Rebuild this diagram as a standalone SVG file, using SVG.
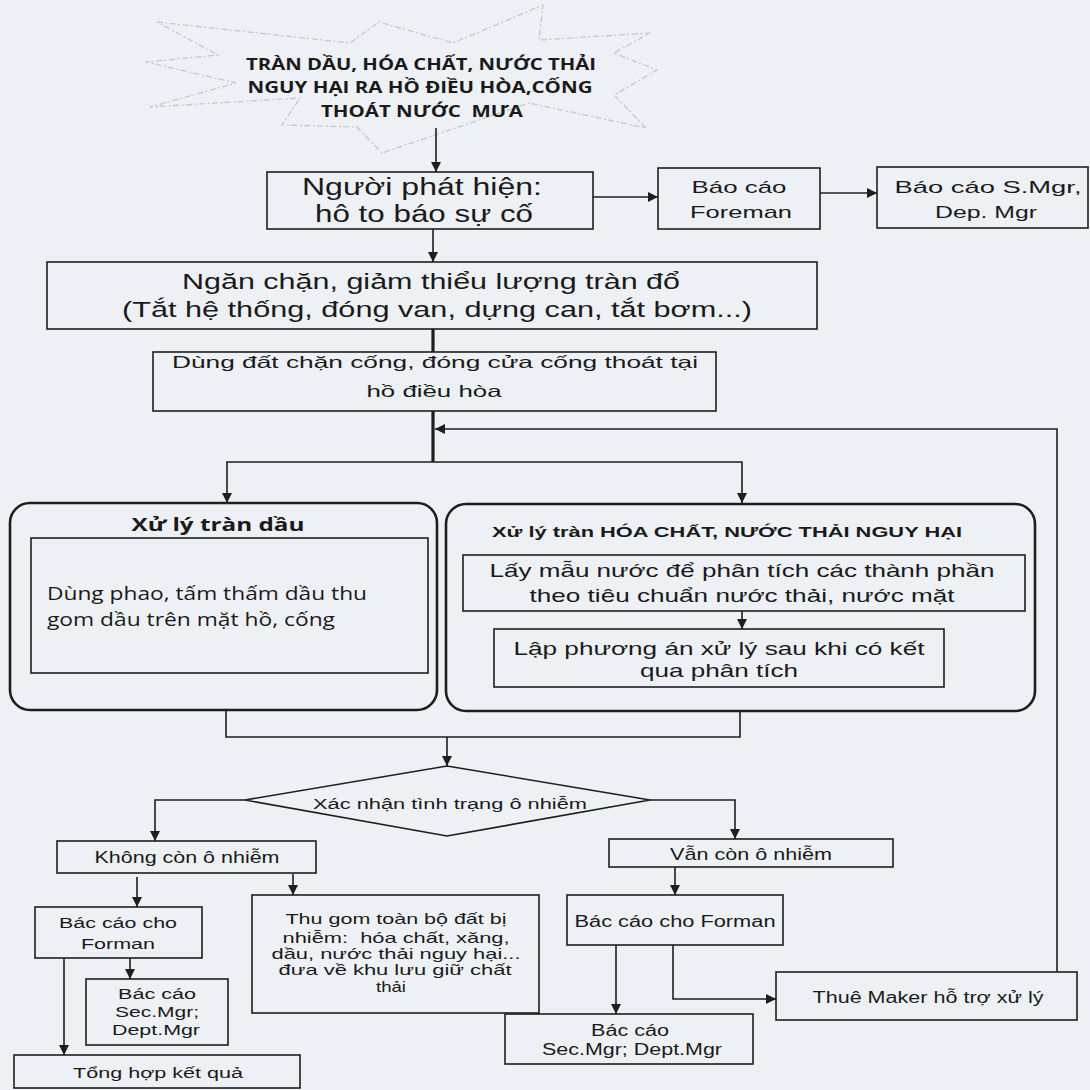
<svg xmlns="http://www.w3.org/2000/svg" width="1090" height="1090" viewBox="0 0 1090 1090">
<defs>
<style>
.box{fill:none;stroke:#1e1e1e;stroke-width:1.6}
.rbox{fill:none;stroke:#1e1e1e;stroke-width:2.6}
.ln{fill:none;stroke:#1e1e1e;stroke-width:1.6}
.thick{stroke-width:3.2}
.t{font-family:"Liberation Sans",Arial,sans-serif;fill:#1a1a1a;text-anchor:middle}
.c{font-family:"Open Sans","Noto Sans",sans-serif;fill:#1a1a1a;text-anchor:middle}
.b{font-weight:700}
.pre{white-space:pre}
.star{fill:none;stroke:#c6c6c6;stroke-width:1.3;stroke-dasharray:6 2 2 3}
</style>
<marker id="ah" viewBox="0 0 10 10" refX="10" refY="5" markerWidth="10" markerHeight="11" markerUnits="userSpaceOnUse" orient="auto">
<path d="M0,0 L10,5 L0,10 z" fill="#1e1e1e"/>
</marker>
</defs>
<rect x="0" y="0" width="1090" height="1090" fill="#edf1f5"/>

<g id="n-start">
<polygon class="star" points="157,22 350,43 379,22 453,43 543,5 539,40 650,33 614,53 657,70 614,95 646,128 529,103 382,153 357,127 282,125 300,98 150,107 236,83 146,62 218,55"/>
<text class="c b" font-size="16.5" x="421" y="70" textLength="350" lengthAdjust="spacingAndGlyphs">TRÀN DẦU, HÓA CHẤT, NƯỚC THẢI</text>
<text class="c b" font-size="16.5" x="420" y="93" textLength="345" lengthAdjust="spacingAndGlyphs">NGUY HẠI RA HỒ ĐIỀU HÒA,CỐNG</text>
<text class="c b pre" font-size="16.5" x="422" y="117" textLength="202" lengthAdjust="spacingAndGlyphs">THOÁT NƯỚC  MƯA</text>
</g>

<g id="n-phathien">
<rect class="box" x="267" y="172" width="326" height="57"/>
<text class="t" font-size="23" x="422" y="195" textLength="240" lengthAdjust="spacingAndGlyphs">Người phát hiện:</text>
<text class="t" font-size="23" x="424" y="222" textLength="218" lengthAdjust="spacingAndGlyphs">hô to báo sự cố</text>
</g>

<g id="n-foreman">
<rect class="box" x="658" y="168" width="162" height="61"/>
<text class="t" font-size="17" x="739" y="193" textLength="95" lengthAdjust="spacingAndGlyphs">Báo cáo</text>
<text class="t" font-size="17" x="741" y="218" textLength="102" lengthAdjust="spacingAndGlyphs">Foreman</text>
</g>

<g id="n-smgr">
<rect class="box" x="877" y="167" width="211" height="61"/>
<text class="t" font-size="17" x="988" y="193" textLength="187" lengthAdjust="spacingAndGlyphs">Báo cáo S.Mgr,</text>
<text class="t" font-size="17" x="986" y="218" textLength="102" lengthAdjust="spacingAndGlyphs">Dep. Mgr</text>
</g>

<g id="n-nganchan">
<rect class="box" x="47" y="262" width="770" height="67"/>
<text class="t" font-size="22.5" x="431" y="289" textLength="498" lengthAdjust="spacingAndGlyphs">Ngăn chặn, giảm thiểu lượng tràn đổ</text>
<text class="t" font-size="22.5" x="437" y="317" textLength="630" lengthAdjust="spacingAndGlyphs">(Tắt hệ thống, đóng van, dựng can, tắt bơm...)</text>
</g>

<g id="n-dungdat">
<rect class="box" x="153" y="352" width="563" height="59"/>
<text class="t" font-size="16.5" x="435" y="368" textLength="526" lengthAdjust="spacingAndGlyphs">Dùng đất chặn cống, đóng cửa cống thoát tại</text>
<text class="t" font-size="16.5" x="434" y="397" textLength="135" lengthAdjust="spacingAndGlyphs">hồ điều hòa</text>
</g>

<g id="n-trandau">
<rect class="rbox" x="10" y="503" width="427" height="207" rx="20" ry="20"/>
<text class="c b" font-size="17" x="218" y="531" textLength="173" lengthAdjust="spacingAndGlyphs">Xử lý tràn dầu</text>
<rect class="box" x="31" y="538" width="397" height="135"/>
<text class="c" font-size="18" x="47" y="600" style="text-anchor:start" textLength="320" lengthAdjust="spacingAndGlyphs">Dùng phao, tấm thấm dầu thu</text>
<text class="c" font-size="18" x="47" y="626" style="text-anchor:start" textLength="288" lengthAdjust="spacingAndGlyphs">gom dầu trên mặt hồ, cống</text>
</g>

<g id="n-hoachat">
<rect class="rbox" x="446" y="504" width="589" height="207" rx="20" ry="20"/>
<text class="t b" font-size="14" x="727" y="537" textLength="470" lengthAdjust="spacingAndGlyphs">Xử lý tràn HÓA CHẤT, NƯỚC THẢI NGUY HẠI</text>
</g>

<g id="n-laymau">
<rect class="box" x="463" y="555" width="562" height="56"/>
<text class="t" font-size="18.5" x="742" y="577" textLength="505" lengthAdjust="spacingAndGlyphs">Lấy mẫu nước để phân tích các thành phần</text>
<text class="t" font-size="18.5" x="742" y="602" textLength="425" lengthAdjust="spacingAndGlyphs">theo tiêu chuẩn nước thải, nước mặt</text>
</g>

<g id="n-lapphuongan">
<rect class="box" x="494" y="629" width="450" height="58"/>
<text class="t" font-size="18.5" x="719" y="655" textLength="411" lengthAdjust="spacingAndGlyphs">Lập phương án xử lý sau khi có kết</text>
<text class="t" font-size="18.5" x="719" y="677" textLength="158" lengthAdjust="spacingAndGlyphs">qua phân tích</text>
</g>

<g id="n-xacnhan">
<polygon class="box" points="447,766 650,800 447,836 245,800"/>
<text class="t" font-size="15.5" x="450" y="809" textLength="274" lengthAdjust="spacingAndGlyphs">Xác nhận tình trạng ô nhiễm</text>
</g>

<g id="n-khongcon">
<rect class="box" x="57" y="841" width="259" height="32"/>
<text class="t" font-size="17" x="187" y="863" textLength="185" lengthAdjust="spacingAndGlyphs">Không còn ô nhiễm</text>
</g>

<g id="n-vancon">
<rect class="box" x="609" y="839" width="284" height="28"/>
<text class="t" font-size="17" x="751" y="860" textLength="162" lengthAdjust="spacingAndGlyphs">Vẫn còn ô nhiễm</text>
</g>

<g id="n-baocao-l">
<rect class="box" x="35" y="907" width="167" height="51"/>
<text class="t" font-size="15.5" x="118" y="928" textLength="118" lengthAdjust="spacingAndGlyphs">Bác cáo cho</text>
<text class="t" font-size="15.5" x="118" y="949" textLength="74" lengthAdjust="spacingAndGlyphs">Forman</text>
</g>

<g id="n-thugom">
<rect class="box" x="252" y="895" width="287" height="118"/>
<text class="t" font-size="15" x="396" y="924" textLength="221" lengthAdjust="spacingAndGlyphs">Thu gom toàn bộ đất bị</text>
<text class="t pre" font-size="15" x="396" y="943" textLength="227" lengthAdjust="spacingAndGlyphs">nhiễm:  hóa chất, xăng,</text>
<text class="t" font-size="15" x="396" y="959" textLength="249" lengthAdjust="spacingAndGlyphs">dầu, nước thải nguy hại...</text>
<text class="t" font-size="15" x="395" y="975" textLength="233" lengthAdjust="spacingAndGlyphs">đưa về khu lưu giữ chất</text>
<text class="t" font-size="15" x="391" y="992" textLength="30" lengthAdjust="spacingAndGlyphs">thải</text>
</g>

<g id="n-secmgr-l">
<rect class="box" x="86" y="979" width="142" height="66"/>
<text class="t" font-size="15.5" x="157" y="999" textLength="78" lengthAdjust="spacingAndGlyphs">Bác cáo</text>
<text class="t" font-size="15.5" x="157" y="1017" textLength="84" lengthAdjust="spacingAndGlyphs">Sec.Mgr;</text>
<text class="t" font-size="15.5" x="156" y="1035" textLength="88" lengthAdjust="spacingAndGlyphs">Dept.Mgr</text>
</g>

<g id="n-tonghop">
<rect class="box" x="14" y="1055" width="286" height="33"/>
<text class="t" font-size="15.5" x="158" y="1078" textLength="170" lengthAdjust="spacingAndGlyphs">Tổng hợp kết quả</text>
</g>

<g id="n-baocao-r">
<rect class="box" x="567" y="895" width="216" height="50"/>
<text class="t" font-size="16" x="675" y="927" textLength="201" lengthAdjust="spacingAndGlyphs">Bác cáo cho Forman</text>
</g>

<g id="n-secmgr-r">
<rect class="box" x="505" y="1014" width="248" height="50"/>
<text class="t" font-size="16" x="630" y="1036" textLength="78" lengthAdjust="spacingAndGlyphs">Bác cáo</text>
<text class="t" font-size="16" x="632" y="1055" textLength="180" lengthAdjust="spacingAndGlyphs">Sec.Mgr; Dept.Mgr</text>
</g>

<g id="n-maker">
<rect class="box" x="776" y="972" width="301" height="48"/>
<text class="t" font-size="16" x="928" y="1003" textLength="231" lengthAdjust="spacingAndGlyphs">Thuê Maker hỗ trợ xử lý</text>
</g>

<g id="connectors">
<path class="ln" d="M436,128 V172" marker-end="url(#ah)"/>
<path class="ln" d="M593,197 H658" marker-end="url(#ah)"/>
<path class="ln" d="M820,193 H877" marker-end="url(#ah)"/>
<path class="ln" d="M433,229 V262" marker-end="url(#ah)"/>
<path class="ln thick" d="M433,329 V352"/>
<path class="ln thick" d="M433,411 V462"/>
<path class="ln" d="M433,462 H227 V503" marker-end="url(#ah)"/>
<path class="ln" d="M433,462 H742 V503" marker-end="url(#ah)"/>
<path class="ln" d="M1057,972 V429 H435" marker-end="url(#ah)"/>
<path class="ln" d="M742,611 V629" marker-end="url(#ah)"/>
<path class="ln" d="M226,710 V737 H740 V711"/>
<path class="ln" d="M447,737 V766" marker-end="url(#ah)"/>
<path class="ln" d="M245,800 H155 V841" marker-end="url(#ah)"/>
<path class="ln" d="M650,800 H735 V839" marker-end="url(#ah)"/>
<path class="ln" d="M137,877 V907" marker-end="url(#ah)"/>
<path class="ln" d="M293,874 V895" marker-end="url(#ah)"/>
<path class="ln" d="M130,958 V979" marker-end="url(#ah)"/>
<path class="ln" d="M64,958 V1055" marker-end="url(#ah)"/>
<path class="ln" d="M675,867 V895" marker-end="url(#ah)"/>
<path class="ln" d="M616,945 V1014" marker-end="url(#ah)"/>
<path class="ln" d="M673,945 V999 H776" marker-end="url(#ah)"/>
</g>
</svg>
